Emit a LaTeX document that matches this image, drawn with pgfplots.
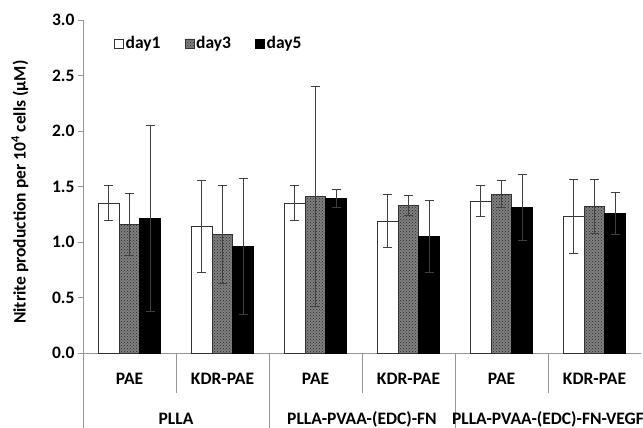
\documentclass[border=0pt]{standalone}
\usepackage{pgfplots}
\pgfplotsset{compat=1.18}
\usepackage{fontspec}
\setmainfont{Carlito}
\usetikzlibrary{patterns}
\definecolor{axgray}{RGB}{150,150,150}
\newcommand{\lf}{\fontsize{17.5}{20}\selectfont\bfseries}
\begin{document}
\begin{tikzpicture}
\begin{axis}[
  at={(0,0)}, anchor=south west,
  scale only axis, width=558pt, height=333pt,
  ybar=0pt, bar width=0.222,
  xmin=-0.5, xmax=5.5, ymin=0, ymax=3.0,
  xtick={0,1,2,3,4,5},
  xticklabels={PAE,KDR-PAE,PAE,KDR-PAE,PAE,KDR-PAE},
  xtick style={draw=none},
  xticklabel style={font=\lf, yshift=-12pt},
  ytick={0,0.5,1,1.5,2,2.5,3},
  yticklabel style={font=\lf, /pgf/number format/.cd, fixed, fixed zerofill, precision=1, assume math mode=true},
  ytick style={axgray, line width=0.8pt},
  tick align=outside, major tick length=5pt,
  axis x line*=bottom, axis y line*=left,
  axis line style={axgray, line width=0.9pt, -},
  ylabel={Nitrite production per 10\textsuperscript{4} cells (μM)},
  ylabel style={font=\lf, at={(axis description cs:-0.113,0.483)}, anchor=center},
  clip=false,
  legend style={draw=none, fill=none, at={(axis description cs:0.05,0.93)}, anchor=west, legend columns=3, font=\lf, /tikz/every even column/.append style={column sep=22pt}},
  legend image code/.code={\draw[#1, line width=0.6pt] (0pt,-4.5pt) rectangle (9pt,4.5pt);},
  error bars/y dir=both, error bars/y explicit,
  error bars/error bar style={black!75, line width=0.9pt},
  error bars/error mark options={rotate=90, mark size=4.5pt, black!75, line width=0.9pt},
]
\addplot[draw=black!80, line width=0.8pt, fill=white] coordinates {
  (0,1.35) +- (0,0.16)
  (1,1.14) +- (0,0.41)
  (2,1.35) +- (0,0.16)
  (3,1.19) +- (0,0.24)
  (4,1.37) +- (0,0.14)
  (5,1.23) +- (0,0.33)
};
\addplot[draw=black!80, line width=0.8pt, fill=black!50, postaction={pattern=crosshatch dots, pattern color=black!85}] coordinates {
  (0,1.16) +- (0,0.28)
  (1,1.07) +- (0,0.44)
  (2,1.41) +- (0,0.99)
  (3,1.33) +- (0,0.09)
  (4,1.43) +- (0,0.12)
  (5,1.32) +- (0,0.24)
};
\addplot[draw=black, line width=0.8pt, fill=black] coordinates {
  (0,1.21) +- (0,0.84)
  (1,0.96) +- (0,0.61)
  (2,1.39) +- (0,0.08)
  (3,1.05) +- (0,0.32)
  (4,1.31) +- (0,0.30)
  (5,1.26) +- (0,0.19)
};
\legend{day1,day3,day5}
\draw[axgray, line width=0.9pt] (axis cs:-0.5,0) -- ([yshift=-80pt]axis cs:-0.5,0);
\draw[axgray, line width=0.9pt] (axis cs:1.5,0) -- ([yshift=-80pt]axis cs:1.5,0);
\draw[axgray, line width=0.9pt] (axis cs:3.5,0) -- ([yshift=-80pt]axis cs:3.5,0);
\draw[axgray, line width=0.9pt] (axis cs:0.5,0) -- ([yshift=-40pt]axis cs:0.5,0);
\draw[axgray, line width=0.9pt] (axis cs:2.5,0) -- ([yshift=-40pt]axis cs:2.5,0);
\draw[axgray, line width=0.9pt] (axis cs:4.5,0) -- ([yshift=-40pt]axis cs:4.5,0);
\node[font=\lf] at ([yshift=-66pt]axis cs:0.5,0) {PLLA};
\node[font=\lf] at ([yshift=-66pt]axis cs:2.5,0) {PLLA-PVAA-(EDC)-FN};
\node[font=\lf] at ([yshift=-66pt]axis cs:4.5,0) {PLLA-PVAA-(EDC)-FN-VEGF};
\end{axis}
\pgfresetboundingbox
\path (-83pt,-75pt) rectangle (560pt,353pt);
\end{tikzpicture}
\end{document}
